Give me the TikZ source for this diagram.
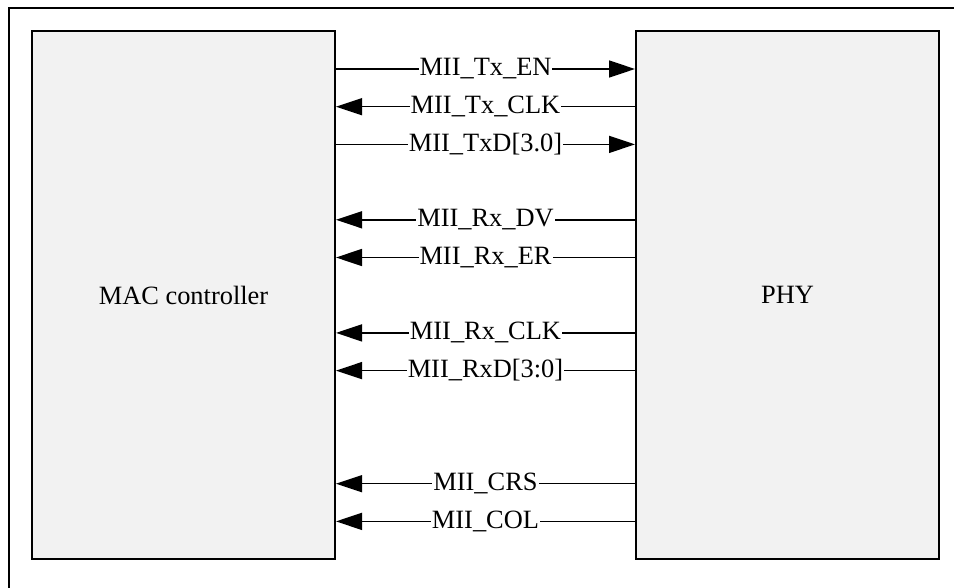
\documentclass[tikz,border=0pt]{standalone}
\usepackage{fontspec}
\setmainfont{Liberation Serif}
\usetikzlibrary{arrows.meta}
\definecolor{boxfill}{HTML}{F2F2F2}
\begin{document}
\begin{tikzpicture}[x=1pt,y=-1pt,
  block/.style={draw, line width=2pt, fill=boxfill, minimum width=303pt, minimum height=528pt, inner sep=0pt, font=\fontsize{26.4}{30}\selectfont},
  sig/.style={line width=1.5pt, -{Triangle[length=26pt,width=17pt]}},
  sigback/.style={line width=1.5pt, {Triangle[length=26pt,width=17pt]}-},
  lab/.style={fill=white, inner sep=1pt, font=\fontsize{26.4}{30}\selectfont}]
\useasboundingbox (0,0) rectangle (954,587);
\clip (0,0) rectangle (954,587);
\fill[white] (0,0) rectangle (954,587);
\draw[line width=2pt] (9,8) rectangle (1000,640);
\node[block] (mac) at (183.5,295) {MAC controller};
\node[block] (phy) at (787.5,295) {PHY};
\foreach \k/\y in {a/69, b/106.7, c/144.4, d/219.8, e/257.5, f/332.9, g/370.6, h/483.7, i/521.4}{
  \coordinate (m\k) at (mac.east |- 0,\y);
  \coordinate (p\k) at (phy.west |- 0,\y);
}
\draw[sig] (ma) -- node[lab] {MII\_Tx\_EN} (pa);
\draw[sigback] (mb) -- node[lab] {MII\_Tx\_CLK} (pb);
\draw[sig] (mc) -- node[lab] {MII\_TxD[3.0]} (pc);
\draw[sigback] (md) -- node[lab] {MII\_Rx\_DV} (pd);
\draw[sigback] (me) -- node[lab] {MII\_Rx\_ER} (pe);
\draw[sigback] (mf) -- node[lab] {MII\_Rx\_CLK} (pf);
\draw[sigback] (mg) -- node[lab] {MII\_RxD[3:0]} (pg);
\draw[sigback] (mh) -- node[lab] {MII\_CRS} (ph);
\draw[sigback] (mi) -- node[lab] {MII\_COL} (pi);
\end{tikzpicture}
\end{document}
